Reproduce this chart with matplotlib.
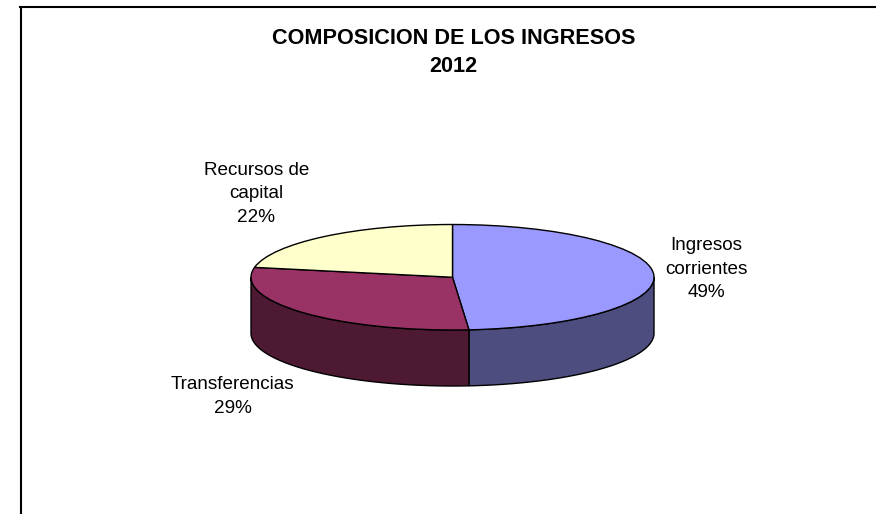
import numpy as np
import matplotlib
matplotlib.use("Agg")
import matplotlib.pyplot as plt

plt.rcParams['font.family'] = ['Liberation Sans', 'DejaVu Sans']

# values, shown rounded in the labels
labels = ['Ingresos\ncorrientes', 'Transferencias', 'Recursos de\ncapital']
values = [48.7, 29.3, 22.0]
top_colors = ['#9999FF', '#993366', '#FFFFCC']
side_colors = ['#4D4D80', '#4D1933', '#808066']
label_pos = [(706, 269), (232.5, 396.5), (256.5, 194)]
title = 'COMPOSICION DE LOS INGRESOS\n2012'

W, H = 876, 514
left, right, top, bottom = 251, 654, 224.5, 330
depth = 56 / ((bottom - top) / 2)

fig = plt.figure(figsize=(W / 100, H / 100), dpi=100)
# border only on left and top, it runs off the image
fig.add_artist(plt.Line2D([20.5 / W, 20.5 / W], [0, 1 - 6.5 / H], color='black', lw=1.5))
fig.add_artist(plt.Line2D([20 / W, 1], [1 - 6.5 / H, 1 - 6.5 / H], color='black', lw=1.5))

ax = fig.add_axes([left / W, 1 - bottom / H, (right - left) / W, (bottom - top) / H])
ax.axis('off')

# side walls first, only the front half of each slice shows
edges = 90 - np.cumsum([0] + values) * 3.6
for i in range(len(values)):
    hi = edges[i] % 360
    lo = hi - values[i] * 3.6
    for shift in (0, 360):
        a = max(lo + shift, 180)
        b = min(hi + shift, 360)
        if b <= a:
            continue
        t = np.radians(np.linspace(a, b, 80))
        x = np.concatenate([np.cos(t), np.cos(t[::-1])])
        y = np.concatenate([np.sin(t), np.sin(t[::-1]) - depth])
        ax.fill(x, y, facecolor=side_colors[i], edgecolor='black', lw=1, clip_on=False, zorder=1)

wedges, _ = ax.pie(values, colors=top_colors, startangle=90, counterclock=False,
                   wedgeprops={'edgecolor': 'black', 'linewidth': 1})
for w in wedges:
    w.set_clip_on(False)
    w.set_zorder(2)
ax.set_aspect('auto')
ax.set_xlim(-1, 1)
ax.set_ylim(-1, 1)

for lab, v, (px, py) in zip(labels, values, label_pos):
    fig.text(px / W, 1 - py / H, f'{lab}\n{round(v)}%', ha='center', va='center',
             fontsize=13.6, color='black', linespacing=1.5)

fig.text(453.5 / W, 1 - 52.5 / H, title, ha='center', va='center', fontsize=15.6,
         fontweight='bold', color='black', linespacing=1.45)

fig.savefig('out.png', dpi=100)
